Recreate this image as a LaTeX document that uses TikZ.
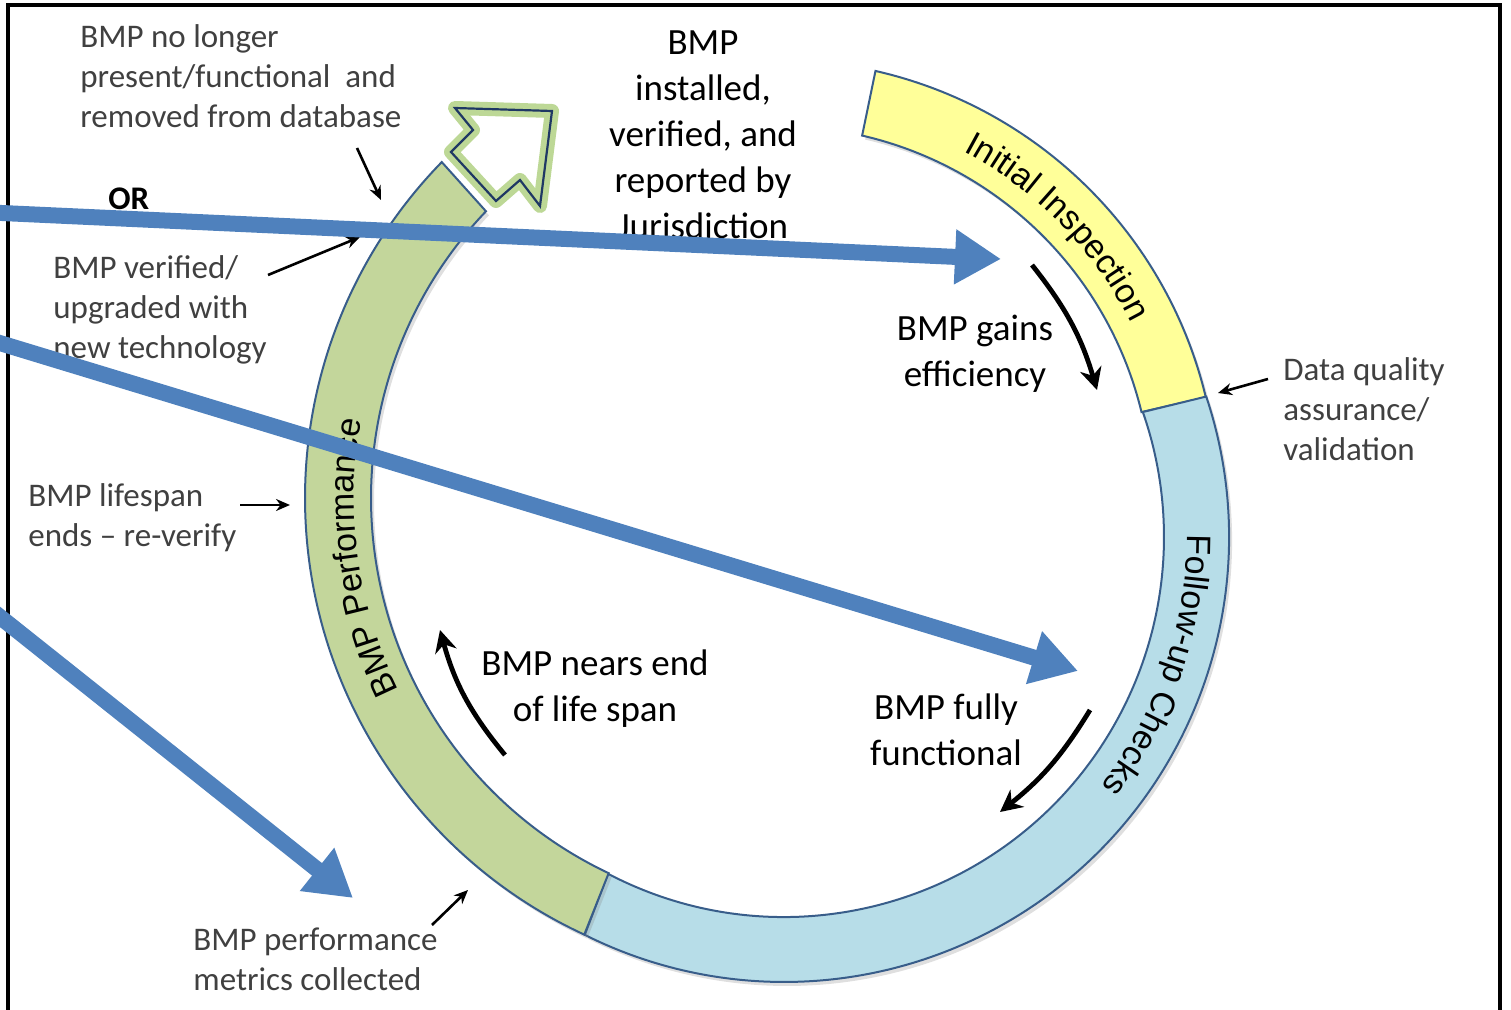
\documentclass[tikz,border=0pt]{standalone}
\usepackage{fontspec}
\setmainfont{Carlito}
\newfontfamily\ringfont{Liberation Sans}
\usetikzlibrary{arrows.meta, decorations.text, shadows}

\definecolor{bandline}{RGB}{56,93,138}
\definecolor{inspfill}{RGB}{255,255,153}
\definecolor{checkfill}{RGB}{183,221,232}
\definecolor{perffill}{RGB}{195,214,155}
\definecolor{flowblue}{RGB}{79,129,189}
\definecolor{glowgreen}{RGB}{145,190,80}
\definecolor{headline}{RGB}{31,56,100}
\definecolor{notegray}{RGB}{64,64,64}

\tikzset{
  band/.style={draw=bandline, line width=1pt,
    drop shadow={shadow xshift=1.5pt, shadow yshift=-2pt, opacity=.25}},
  ringtext/.style={decorate, decoration={text along path, text align=center,
    text={|\ringfont\fontsize{17}{20}\selectfont|#1}}},
  note/.style={font=\fontsize{16.5}{20}\selectfont, text=notegray, align=left, inner sep=0pt, anchor=base west},
  stage/.style={font=\fontsize{18.5}{23}\selectfont, align=center, inner sep=0pt, anchor=base},
  pointer/.style={-{Stealth[length=7pt,width=6pt]}, line width=1.3pt},
  turn/.style={-{Stealth[length=11pt,width=11pt]}, line width=2.4pt},
  flow/.style={-{Triangle[length=23pt,width=26pt]}, line width=8pt, flowblue}
}

\begin{document}
\begin{tikzpicture}[x=0.5pt, y=0.5pt]
    \useasboundingbox (0,0) rectangle (1511,1009);
    \clip (0,0) rectangle (1511,1009);
    \draw[line width=1.6pt] (8,-20) -- (8,1004) -- (1500,1004) -- (1500,-20);

    % cycle ring
    \begin{scope}[shift={(778,509)}]
        \path[band, fill=inspfill] (77.2:440) arc[start angle=77.2, end angle=13.5, radius=440]
            -- (13.6:374) arc[start angle=13.6, end angle=77, radius=374] -- cycle;
        \path[ringtext={Initial Inspection}] (74.3:395) arc[start angle=74.3, end angle=14.3, radius=395];
    \end{scope}
    \begin{scope}[shift={(784,472)}]
        \path[band, fill=checkfill] (18.4:445) arc[start angle=18.4, end angle=-116.6, radius=445]
            -- (-117.6:380) arc[start angle=-117.6, end angle=19.2, radius=380] -- cycle;
        \path[ringtext={Follow-up Checks}] (11.1:403) arc[start angle=11.1, end angle=-48.9, radius=403];
    \end{scope}
    \begin{scope}[shift={(786,511)}]
        \path[band, fill=perffill] (-114.8:481) arc[start angle=-114.8, end angle=-224.3, radius=481]
            -- (-223.7:415) arc[start angle=-223.7, end angle=-115.3, radius=415] -- cycle;
        \path[ringtext={BMP Performance}] (218:432) arc[start angle=218, end angle=158, radius=432];
    \end{scope}

    % open arrow head
    \fill[white] (455,901) -- (552,898) -- (540,803) -- (520,829) -- (496,808) -- (451,857) -- (473,879) -- cycle;
    \draw[glowgreen, line width=7pt, opacity=.6, line join=round]
        (455,901) -- (552,898) -- (540,803) -- (520,829) -- (496,808) -- (451,857) -- (473,879) -- cycle;
    \draw[headline, line width=1.1pt]
        (455,901) -- (552,898) -- (540,803) -- (520,829) -- (496,808) -- (451,857) -- (473,879) -- cycle;

    % notes
    \node[note] (noLonger) at (80,881) {BMP no longer\\present/functional\ \ and\\removed from database};
    \node[note, text=black, font=\fontsize{16.5}{20}\selectfont\bfseries] (orNote) at (108,799) {OR};
    \node[note] (verifiedNote) at (53,651) {BMP verified/\\upgraded with\\new technology};
    \node[note] (lifespanNote) at (28,463) {BMP lifespan\\ends -- re-verify};
    \node[note] (metricsNote) at (193,19) {BMP performance\\metrics collected};
    \node[note] (qualityNote) at (1283,549) {Data quality\\assurance/\\validation};

    \node[stage] (installed) at (703,770) {BMP\\installed,\\verified, and\\reported by\\Jurisdiction};
    \node[stage] (gains) at (975,623) {BMP gains\\efficiency};
    \node[stage] (nears) at (595,288) {BMP nears end\\of life span};
    \node[stage] (fully) at (946,244) {BMP fully\\functional};

    % pointers
    \coordinate (noLongerTail) at (357,861);  \coordinate (noLongerTip) at (381,809);
    \coordinate (verifiedTail) at (268,734);  \coordinate (verifiedTip) at (360,772);
    \coordinate (lifespanTail) at (240,504);  \coordinate (lifespanTip) at (290,504);
    \coordinate (metricsTail) at (432,84);    \coordinate (metricsTip) at (468,119);
    \coordinate (qualityTail) at (1268,630);  \coordinate (qualityTip) at (1218,616);
    \foreach \p in {noLonger, verified, lifespan, metrics, quality}
        \draw[pointer] (\p Tail) -- (\p Tip);

    % turning arrows
    \coordinate (gainsA) at (1032,744);  \coordinate (gainsB) at (1097,619);
    \coordinate (nearsA) at (505,254);   \coordinate (nearsB) at (440,379);
    \coordinate (fullyA) at (1090,299);  \coordinate (fullyB) at (1000,197);
    \draw[turn] (gainsA) to[bend left=11] (gainsB);
    \draw[turn] (nearsA) to[bend left=12] (nearsB);
    \draw[turn] (fullyA) to[bend left=10] (fullyB);

    % blue flow arrows
    \coordinate (flowOneA) at (-20,797);   \coordinate (flowOneB) at (1001,750);
    \coordinate (flowTwoA) at (-20,672);   \coordinate (flowTwoB) at (1078,338);
    \coordinate (flowThreeA) at (-20,408); \coordinate (flowThreeB) at (353,111);
    \draw[flow] (flowOneA) -- (flowOneB);
    \draw[flow] (flowTwoA) -- (flowTwoB);
    \draw[flow] (flowThreeA) -- (flowThreeB);
\end{tikzpicture}
\end{document}
